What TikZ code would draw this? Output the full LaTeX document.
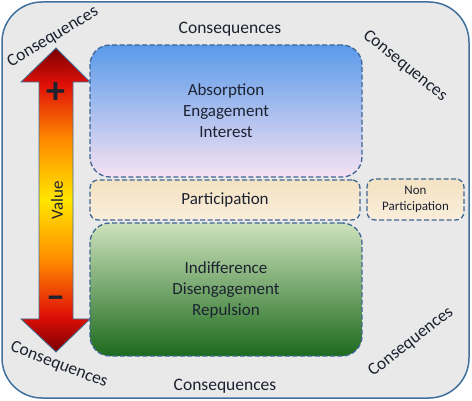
\documentclass[tikz,border=0pt]{standalone}
\usepackage{fontspec}
\setmainfont{Carlito}
\usepackage{tikz}
\usepackage{xcolor}

\definecolor{frameblue}{HTML}{41719C}
\definecolor{dashblue}{HTML}{3F6694}
\definecolor{granite}{HTML}{E9E9E9}
\definecolor{inktext}{HTML}{1C2230}
\definecolor{tipred}{HTML}{7A0000}
\definecolor{headred}{HTML}{E01008}
\definecolor{midorange}{HTML}{FF8A00}
\definecolor{midyellow}{HTML}{FFE600}
\definecolor{skytop}{HTML}{5A9AEA}
\definecolor{skymid}{HTML}{A9C6F0}
\definecolor{skybottom}{HTML}{F6E2F2}
\definecolor{sandtop}{HTML}{F3E2C2}
\definecolor{sandbottom}{HTML}{FAEEDB}
\definecolor{leaftop}{HTML}{CDE2BC}
\definecolor{leafmid}{HTML}{7FAE68}
\definecolor{leafbottom}{HTML}{1C6A1C}

\pgfdeclareverticalshading{valuebar}{100bp}{color(0bp)=(tipred); color(25bp)=(tipred); color(31bp)=(headred); color(40bp)=(midorange); color(50bp)=(midyellow); color(60bp)=(midorange); color(69bp)=(headred); color(75bp)=(tipred); color(100bp)=(tipred)}

\begin{document}
\begin{tikzpicture}[x=1pt,y=-1pt]
  \tikzset{levelbox/.style={draw=dashblue,line width=1.3pt,dash pattern=on 5pt off 2.5pt,rounded corners=20pt,align=center,text=inktext,font=\fontsize{17}{21}\selectfont,inner sep=0pt}}
  \tikzset{consequence/.style={font=\fontsize{17.5}{20}\selectfont,text=inktext,inner sep=0pt}}
  \useasboundingbox (0,0) rectangle (472,401);
  \draw[frameblue,line width=1.5pt,fill=granite,rounded corners=40pt] (2,2) rectangle (469,398);
  \node[levelbox,minimum width=272pt,minimum height=132pt,top color=skytop,middle color=skymid,bottom color=skybottom] (engaged) at (226,111) {Absorption\\Engagement\\Interest};
  \node[levelbox,minimum width=270pt,minimum height=40pt,rounded corners=8pt,top color=sandtop,bottom color=sandbottom] (participation) at (225,200) {Participation};
  \node[levelbox,minimum width=97pt,minimum height=41pt,rounded corners=8pt,font=\fontsize{13}{16}\selectfont,top color=sandtop,bottom color=sandbottom] (nonparticipation) at (415.5,199.5) {Non\\Participation};
  \node[levelbox,minimum width=272pt,minimum height=133pt,top color=leaftop,middle color=leafmid,bottom color=leafbottom] (disengaged) at (226,289.5) {Indifference\\Disengagement\\Repulsion};
  \draw[frameblue,line width=0.8pt,shading=valuebar] (56,48) -- (90,82) -- (73,82) -- (73,319) -- (90,319) -- (56,352) -- (21,319) -- (39,319) -- (39,82) -- (21,82) -- cycle;
  \node[font=\fontsize{38}{38}\selectfont\bfseries,text=inktext] (plus) at (56,93) {+};
  \node[font=\fontsize{38}{38}\selectfont\bfseries,text=inktext] (minus) at (56,302) {\textendash};
  \node[font=\fontsize{17}{20}\selectfont,text=inktext,rotate=90] (value) at (57,200) {Value};
  \node[consequence] (ctop) at (230,29) {Consequences};
  \node[consequence] (cbottom) at (225,386) {Consequences};
  \node[consequence,rotate=31] (ctopleft) at (53,37) {Consequences};
  \node[consequence,rotate=-39] (ctopright) at (405,66) {Consequences};
  \node[consequence,rotate=-21] (cbottomleft) at (59,365) {Consequences};
  \node[consequence,rotate=38] (cbottomright) at (411,342) {Consequences};
\end{tikzpicture}
\end{document}
